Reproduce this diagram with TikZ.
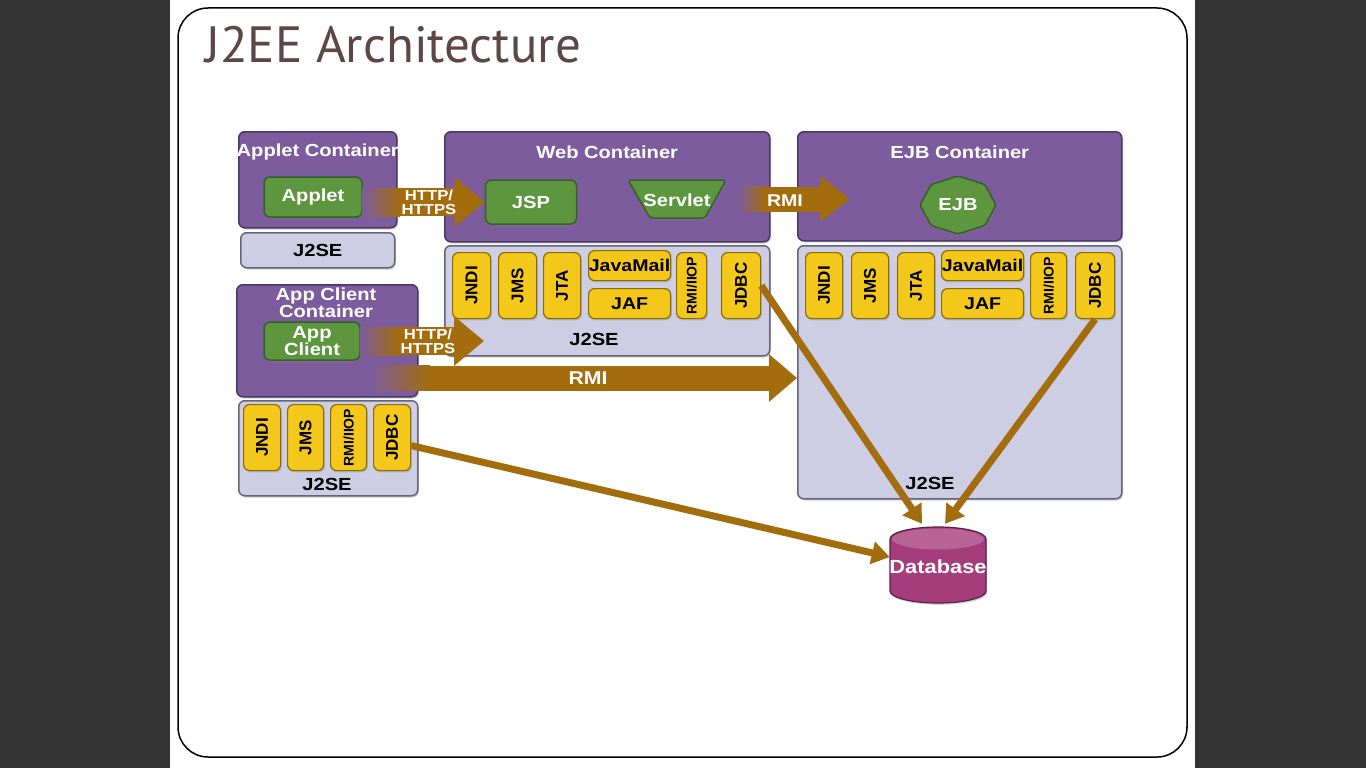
\documentclass[tikz,border=0pt]{standalone}
\usepackage{fontspec}
\setmainfont{Liberation Sans}
\newfontfamily\titlefont{PT Sans}
\newfontfamily\boxfont[FakeStretch=1.15]{Liberation Sans}
\newfontfamily\vertfont{Liberation Sans}
\usetikzlibrary{arrows.meta,shapes.geometric,positioning,calc,shadows}

\definecolor{slidebg}{HTML}{333333}
\definecolor{titlecol}{HTML}{5E4646}
\definecolor{contfill}{HTML}{7D5C9E}
\definecolor{contdraw}{HTML}{4A3866}
\definecolor{jsefill}{HTML}{CDCDE4}
\definecolor{jsedraw}{HTML}{65657A}
\definecolor{compfill}{HTML}{5E963F}
\definecolor{compdraw}{HTML}{35602A}
\definecolor{apifill}{HTML}{F4C81A}
\definecolor{apidraw}{HTML}{8C6A00}
\definecolor{arrowcol}{HTML}{A36D0E}
\definecolor{dbfill}{HTML}{A53C7C}
\definecolor{dbdraw}{HTML}{5E1F46}

\tikzset{
  boxshadow/.style={drop shadow={shadow xshift=1.2pt, shadow yshift=-1.8pt, opacity=0.35}},
  container/.style={boxshadow, draw=contdraw, fill=contfill, line width=1.5pt, rounded corners=6pt, anchor=north west, inner sep=0pt},
  jsebox/.style={boxshadow, draw=jsedraw, fill=jsefill, line width=1.5pt, rounded corners=6pt, anchor=north west, inner sep=0pt},
  ctitle/.style={text=white, font=\boxfont\bfseries\fontsize{17.5}{16}\selectfont, align=center},
  jsetext/.style={text=black, font=\boxfont\bfseries\fontsize{17.5}{16}\selectfont},
  comp/.style={boxshadow, draw=compdraw, fill=compfill, line width=1.5pt, rounded corners=6pt, text=white,
    font=\boxfont\bfseries\fontsize{17.5}{16}\selectfont, align=center, inner sep=0pt},
  api/.style={boxshadow, draw=apidraw, fill=apifill, line width=1.2pt, rounded corners=6pt, anchor=north west,
    inner sep=0pt, font=\vertfont\bfseries\fontsize{17}{17}\selectfont},
  apih/.style={api, font=\boxfont\bfseries\fontsize{17}{17}\selectfont},
  fatarrow/.style={draw=arrowcol, line width=28pt, -{Triangle[length=30pt, width=48pt]}},
  thinarrow/.style={draw=arrowcol, line width=7pt, -{Triangle[length=18pt, width=22pt]}},
  arrowtext/.style={text=white, font=\boxfont\bfseries\fontsize{14.5}{14}\selectfont, align=center}
}

\begin{document}
\begin{tikzpicture}[x=1pt,y=-1pt]
\useasboundingbox (0,0) rectangle (1366,768);
% slide
\fill[slidebg] (0,0) rectangle (1366,768);
\fill[white] (170,0) rectangle (1195,768);
\draw[line width=1.5pt, rounded corners=30pt] (178,8) rectangle (1187,757);
\node[anchor=base west, inner sep=0pt, text=titlecol, font=\titlefont\fontsize{51}{51}\selectfont] (title) at (205,63) {J2EE Architecture};

% applet container
\node[container, minimum width=158pt, minimum height=96pt] (appletc) at (238,131) {};
\node[ctitle] at ([yshift=-21pt]appletc.north) {Applet Container};
\node[comp, minimum width=98pt, minimum height=40pt] (applet) at (313,197) {Applet};
\node[jsebox, minimum width=154pt, minimum height=35pt] (appletjse) at (240,232) {};
\node[jsetext] at (appletjse.center) {J2SE};

% web container
\node[container, minimum width=325pt, minimum height=110pt] (webc) at (444,131) {};
\node[ctitle] at ([yshift=-21pt]webc.north) {Web Container};
\node[comp, minimum width=91pt, minimum height=44pt] (jsp) at (531,202) {JSP};
\node[minimum width=98pt, minimum height=38pt, inner sep=0pt] (servlet) at (677,199) {};
\draw[comp, rounded corners=3pt] (628,180) -- (726,180) -- (705,218) -- (650,218) -- cycle;
\node[ctitle] at (677,200) {Servlet};
\node[jsebox, minimum width=325pt, minimum height=110pt] (webjse) at (444,245) {};
\node[jsetext] at (594,339) {J2SE};
% web services
\node[api, minimum width=38pt, minimum height=66pt] (wjndi) at (452,252) {\rotatebox{90}{JNDI}};
\node[api, minimum width=38pt, minimum height=66pt] (wjms) at (498,252) {\rotatebox{90}{JMS}};
\node[api, minimum width=37pt, minimum height=66pt] (wjta) at (543,252) {\rotatebox{90}{JTA}};
\node[apih, minimum width=82pt, minimum height=30pt] (wmail) at (588,250) {JavaMail};
\node[apih, minimum width=82pt, minimum height=30pt] (wjaf) at (588,288) {JAF};
\node[api, minimum width=30pt, minimum height=66pt, font=\vertfont\bfseries\fontsize{14}{14}\selectfont] (wrmi) at (676,252) {\rotatebox{90}{RMI/IIOP}};
\node[api, minimum width=39pt, minimum height=66pt] (wjdbc) at (721,252) {\rotatebox{90}{JDBC}};

% ejb container
\node[container, minimum width=324pt, minimum height=109pt] (ejbc) at (797,131) {};
\node[ctitle] at ([yshift=-21pt]ejbc.north) {EJB Container};
\coordinate (ejbpos) at (958,205);
\draw[comp, rounded corners=2pt] ($(ejbpos)+(0:38 and 29)$) \foreach \a in {45,90,...,315}{ -- ($(ejbpos)+(\a:38 and 29)$)} -- cycle;
\node[ctitle] (ejb) at (ejbpos) {EJB};
\node[jsebox, minimum width=324pt, minimum height=253pt] (ejbjse) at (797,245) {};
\node[jsetext] at (930,483) {J2SE};
% ejb services
\node[api, minimum width=37pt, minimum height=66pt] (ejndi) at (805,252) {\rotatebox{90}{JNDI}};
\node[api, minimum width=37pt, minimum height=66pt] (ejms) at (851,252) {\rotatebox{90}{JMS}};
\node[api, minimum width=37pt, minimum height=66pt] (ejta) at (897,252) {\rotatebox{90}{JTA}};
\node[apih, minimum width=82pt, minimum height=30pt] (email) at (941,250) {JavaMail};
\node[apih, minimum width=82pt, minimum height=30pt] (ejaf) at (941,288) {JAF};
\node[api, minimum width=36pt, minimum height=66pt, font=\vertfont\bfseries\fontsize{14}{14}\selectfont] (ermi) at (1030,252) {\rotatebox{90}{RMI/IIOP}};
\node[api, minimum width=39pt, minimum height=66pt] (ejdbc) at (1075,252) {\rotatebox{90}{JDBC}};

% app client container
\node[container, minimum width=181pt, minimum height=112pt] (appcc) at (236,284) {};
\node[ctitle] at (326,303) {App Client\\Container};
\node[comp, minimum width=96pt, minimum height=38pt] (appclient) at (312,341) {App\\Client};
\node[jsebox, minimum width=179pt, minimum height=95pt] (appjse) at (238,400) {};
\node[jsetext] at (327,484) {J2SE};
% app client services
\node[api, minimum width=37pt, minimum height=66pt] (ajndi) at (243,404) {\rotatebox{90}{JNDI}};
\node[api, minimum width=36pt, minimum height=66pt] (ajms) at (287,404) {\rotatebox{90}{JMS}};
\node[api, minimum width=36pt, minimum height=66pt, font=\vertfont\bfseries\fontsize{14}{14}\selectfont] (armi) at (330,404) {\rotatebox{90}{RMI/IIOP}};
\node[api, minimum width=37pt, minimum height=66pt] (ajdbc) at (373,404) {\rotatebox{90}{JDBC}};

% database
\node[minimum width=96pt, minimum height=76pt, inner sep=0pt] (db) at (938,565) {};
\draw[boxshadow, draw=dbdraw, fill=dbfill, line width=1.2pt] (890,539) -- (890,591)
  arc[start angle=180, end angle=0, x radius=48, y radius=12] -- (986,539)
  arc[start angle=0, end angle=-180, x radius=48, y radius=12] -- cycle;
\fill[dbfill!80!white] (938,539) ellipse[x radius=46, y radius=10.5];
\node[text=white, font=\boxfont\bfseries\fontsize{19}{19}\selectfont] (dblabel) at (938,567) {Database};

% fat arrows
\draw[fatarrow] (applet.east |- jsp.west) -- (jsp.west);
\shade[left color=contfill, right color=arrowcol] (362,188) rectangle (400,216);
\node[arrowtext] at (429,202) {HTTP/\\HTTPS};
\draw[fatarrow] (appclient.east) -- ($(appclient.east -| webjse.west)+(40,0)$);
\shade[left color=contfill, right color=arrowcol] (360,327) rectangle (398,355);
\node[arrowtext] at (428,341) {HTTP/\\HTTPS};
\draw[fatarrow, line width=25pt, -{Triangle[length=30pt, width=44pt]}] ([xshift=12pt]servlet.east) -- ($(servlet.east -| ejbc.west)+(53,0)$);
\shade[left color=contfill, right color=arrowcol] (738,186.5) rectangle (765,211.5);
\node[arrowtext, font=\boxfont\bfseries\fontsize{17}{17}\selectfont] at (785,201) {RMI};
\coordinate (rmistart) at (370,378);
\draw[fatarrow, line width=25pt, -{Triangle[length=28pt, width=46pt]}] (rmistart) -- (rmistart -| ejbjse.west);
\shade[left color=contfill, right color=arrowcol] (370,365.5) rectangle (430,390.5);
\node[arrowtext, font=\boxfont\bfseries\fontsize{18.5}{18}\selectfont] at (588,378) {RMI};

% jdbc links
\draw[thinarrow] (wjdbc.east) -- ([xshift=-16pt,yshift=3pt]db.north);
\draw[thinarrow] (ejdbc.south) -- ([xshift=7pt,yshift=3pt]db.north);
\draw[thinarrow] ([yshift=-8pt]ajdbc.east) -- ([yshift=8pt]db.west);
\end{tikzpicture}
\end{document}
